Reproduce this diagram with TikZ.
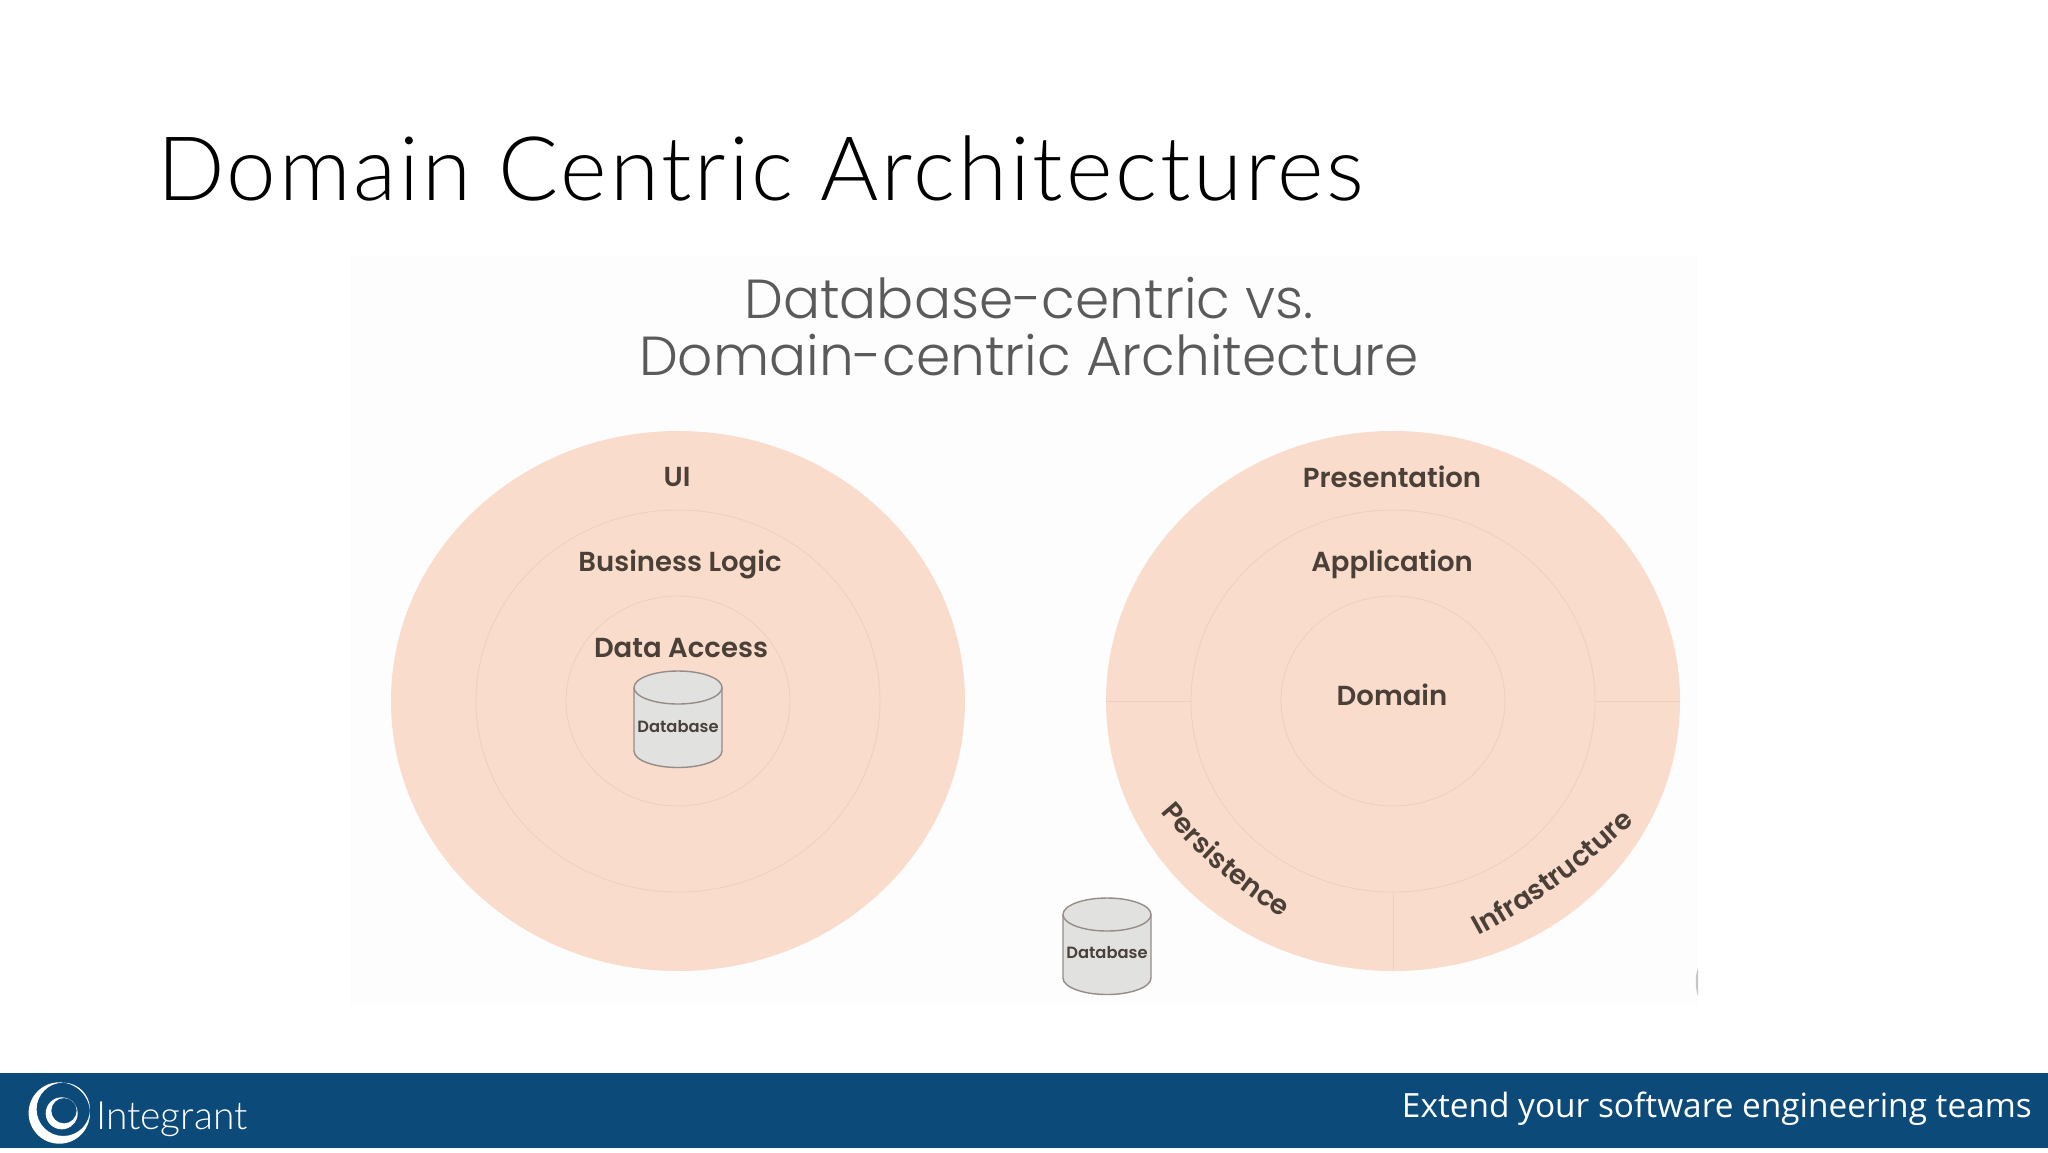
\documentclass[tikz,border=0pt]{standalone}
\usepackage{fontspec}
\usetikzlibrary{shapes.geometric,decorations.text}
\newfontfamily\titlef[UprightFont=* Light,LetterSpace=3.2]{Lato}
\newfontfamily\popL[UprightFont=* Light]{Poppins}
\newfontfamily\popS[UprightFont=* SemiBold]{Poppins}
\newfontfamily\footf{Open Sans}
\newfontfamily\logof[UprightFont=* Light]{Lato}
\definecolor{panelc}{HTML}{FDFDFD}
\definecolor{ringc}{HTML}{F9DCCB}
\definecolor{ringl}{HTML}{EFCFBE}
\definecolor{footc}{HTML}{0B4A79}
\definecolor{labelc}{HTML}{4A4038}
\definecolor{subc}{HTML}{5A5A5A}
\definecolor{dbfill}{HTML}{E1E1E0}
\definecolor{dbline}{HTML}{958C88}
\newcommand{\curvefont}{\popS\fontsize{27.5}{30}\selectfont}
\tikzset{
  ringout/.style={ellipse,fill=ringc,draw=none,inner sep=0pt,outer sep=0pt,minimum width=574pt,minimum height=540pt},
  ringmid/.style={ellipse,draw=ringl,line width=.8pt,inner sep=0pt,outer sep=0pt,minimum width=404pt,minimum height=382pt},
  ringin/.style={ellipse,draw=ringl,line width=.8pt,inner sep=0pt,outer sep=0pt,minimum width=224pt,minimum height=210pt},
  ringlabel/.style={text=labelc,font=\popS\fontsize{27.5}{30}\selectfont,inner sep=0pt,anchor=base},
  sep/.style={draw=ringl,line width=.8pt},
  dbtext/.style={text=labelc,font=\popS\fontsize{16.3}{20}\selectfont,inner sep=0pt},
  dbshape/.style={fill=dbfill,draw=dbline,line width=1.4pt}
}
\newcommand{\dbcyl}[2]{% centre x, top y
  \draw[dbshape] (#1-44,#2+16.5) arc[x radius=44,y radius=16.5,start angle=180,end angle=360] -- (#1+44,#2+80)
    arc[x radius=44,y radius=16.5,start angle=0,end angle=180] -- cycle;
  \draw[dbshape,fill=none] (#1-44,#2+16.5) arc[x radius=44,y radius=16.5,start angle=180,end angle=0];
}
\begin{document}
\begin{tikzpicture}[x=1pt,y=-1pt]
\useasboundingbox (0,0) rectangle (2048,1152);
\fill[white] (0,0) rectangle (2048,1152);
\fill[panelc] (350,255) rectangle (1698,1005);
\node[anchor=base west,inner sep=0pt,font=\titlef\fontsize{89}{100}\selectfont] (title) at (157,200) {Domain Centric Architectures};
\node[align=center,inner sep=0pt,text=subc,font=\popL\fontsize{55}{57}\selectfont] (sub) at (1029,327) {Database-centric vs.\\Domain-centric Architecture};
% left
\node[ringout] (lOut) at (678,701) {};
\node[ringmid] (lMid) at (678,701) {};
\node[ringin] (lIn) at (678,701) {};
\node[ringlabel] (ui) at (677,486) {UI};
\node[ringlabel] (bl) at (680,571) {Business Logic};
\node[ringlabel] (da) at (681,657) {Data Access};
\dbcyl{678}{671}
\node[dbtext] (db1) at (678,727) {Database};
% right
\node[ringout] (rOut) at (1393,701) {};
\node[ringmid] (rMid) at (1393,701) {};
\node[ringin] (rIn) at (1393,701) {};
\draw[sep] (rOut.west) -- (rMid.west);
\draw[sep] (rMid.east) -- (rOut.east);
\draw[sep] (rMid.south) -- (rOut.south);
\node[ringlabel] (pres) at (1392,487) {Presentation};
\node[ringlabel] (app) at (1392,571) {Application};
\node[ringlabel] (dom) at (1392,705) {Domain};
\path[decorate,decoration={text along path,text align=center,text color=labelc,text={|\curvefont|Persistence}}]
  (1126,766) .. controls (1178.4,844.7) and (1247.2,904.6) .. (1332.5,945.7);
\path[decorate,decoration={text along path,text align=center,text color=labelc,text={|\curvefont|Infrastructure}}]
  (1416.2,966.2) .. controls (1520.1,921.9) and (1608.6,856.7) .. (1681.8,770.6);
\dbcyl{1107}{898}
\node[dbtext] (db2) at (1107,953) {Database};
\fill[gray!45] (1698,968) .. controls (1695,975) and (1695,988) .. (1698,996) -- cycle;
% footer
\fill[footc] (0,1073) rectangle (2048,1148);
\node[anchor=east,inner sep=0pt,text=white,font=\footf\fontsize{33.4}{36}\selectfont] (ext) at (2032,1109) {Extend your software engineering teams};
\node[anchor=base west,inner sep=0pt,text=white,font=\logof\fontsize{39}{42}\selectfont] (logo) at (96,1129) {Integrant};
% swirl
\fill[white,even odd rule] (59.3,1113) circle[radius=30.7] (63.3,1109.3) circle[radius=26.7];
\fill[white,even odd rule] (61.7,1113.3) circle[radius=16] (64,1110.7) circle[radius=12.7];
\draw[footc,line width=1.1pt] (38,1104) .. controls (41,1096) and (47,1090) .. (56,1086);
\draw[footc,line width=1pt] (72,1126) .. controls (77,1124) and (82,1118) .. (84,1112);
\end{tikzpicture}
\end{document}
